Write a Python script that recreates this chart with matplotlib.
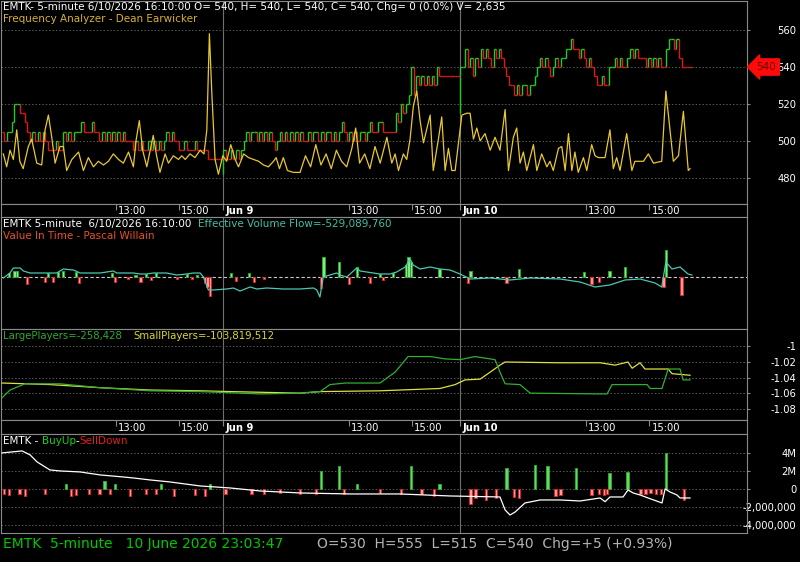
import numpy as np
import matplotlib
matplotlib.use("Agg")
import matplotlib.pyplot as plt
from matplotlib.transforms import blended_transform_factory

W, H = 800, 562

# ---- time axis (5-minute bar index, Jun 8 session starts at 0) ----
first_bar = 6
day_lines = [92, 184]
time_ticks = [50.5, 75, 92, 141, 165.3, 184, 233, 257.5]
time_labels = ["13:00", "15:00", "Jun 9", "13:00", "15:00", "Jun 10", "13:00", "15:00"]

# ---- price closes per bar ----
close_jun8 = [505, 500, 505, 505, 510, 520, 520, 515, 515, 510, 505, 500,
              505, 500, 505, 500, 505, 500, 495, 495, 495, 500, 495, 495,
              505, 500, 505, 500, 505, 505, 505, 510, 505, 505, 505, 510, 505, 505,
              500, 505, 500, 505, 500, 505, 500, 505, 500, 505, 500, 500,
              500, 495, 500, 495, 500, 495, 495, 500, 495, 500, 495, 500, 495, 500,
              505, 500, 505, 500, 500, 495, 495, 500, 495, 495, 495, 500, 495, 495,
              495, 495, 490, 490, 490, 490, 490, 490]
open_jun9 = 482
close_jun9 = [495, 490, 490, 495, 490, 495, 490, 495,
              500, 505, 500, 505, 505, 500, 505, 500, 505, 500, 505, 500, 495, 500,
              505, 500, 505, 500, 505, 500, 505,
              500, 505, 500, 500, 505, 500, 505, 505, 500, 505, 500, 505, 505, 500,
              505, 500, 505, 510, 505, 500, 505, 500, 505, 500, 505, 505, 500, 505,
              510, 505, 505, 510,
              510, 505, 505, 505, 505, 505, 515, 510, 520, 515, 520, 525, 540,
              525, 535, 530, 535, 530, 535, 530, 535, 530, 540,
              535, 535, 535, 535, 535, 535, 535, 535]
open_jun10 = 515
close_jun10 = [540, 540, 550, 540, 545, 535, 545, 540, 550,
               545, 550, 545, 540, 550, 545, 550, 545, 540, 535, 530, 530,
               525, 530, 525, 530, 530, 525, 530, 530, 535, 540, 545, 540, 545, 540,
               535, 540, 545, 540, 545, 545, 550, 550, 555, 550, 550, 545, 550, 545, 540,
               545, 540, 535, 530, 530, 535, 530, 530, 540,
               540, 545, 540, 545, 540, 540, 545, 550, 545, 550, 545, 545, 545,
               540, 545, 540, 545, 540, 545, 540, 540, 550, 555,
               555, 550, 555, 545, 540, 540, 540, 540]

# ---- Frequency Analyzer (bar index, value) ----
fa_t = [6.7, 8.0, 9.3, 10.6, 11.9, 13.1, 14.4, 16.4, 17.7, 19.7, 21.6, 22.9, 24.2, 25.5,
        26.8, 28.7, 30.0, 31.3, 33.3, 35.9, 37.8, 39.7, 41.7, 43.6, 45.6, 47.5, 49.4, 51.4,
        53.3, 55.3, 57.2, 58.2, 59.5, 60.8, 62.4, 64.9, 66.2, 67.5, 69.5, 70.8, 72.7, 74.7,
        76.0, 77.3, 79.2, 81.1, 83.1, 84.6, 85.7, 86.7, 87.7, 88.9, 90.2, 91.9,
        93.4, 95.0, 96.7, 98.0, 100.0, 101.9, 103.9, 105.8, 107.7, 109.6, 111.6, 112.6,
        113.9, 115.4, 117.0, 119.3, 121.9, 124, 126, 128, 130, 132, 134, 136, 138, 140,
        142, 143.5, 145, 147, 149, 151,
        153.0, 155.6, 157.5, 158.8, 160.1, 162.0, 163.3, 164.6, 165.9, 167.2, 168.5, 169.8,
        172.4, 173.6, 175.6, 176.9, 178.2, 179.5, 180.8, 182.1,
        184.0, 184.7, 186.6, 187.9, 189.2, 190.5, 191.8, 193.7, 195.7, 197.6, 199.5, 201.5,
        202.8, 204.7, 206.0, 207.3, 208.6, 209.9, 212.5, 213.8, 215.7, 217.7, 218.9, 220.2,
        222.2, 223.5, 224.8, 226.1, 227.4, 228.6, 229.9, 231.9, 233.2, 235.1, 236.4, 237.7,
        240.3, 242.2, 243.5, 244.8, 246.1, 248.7, 250.7, 251.9, 255.2, 257.1, 259.1, 262.3,
        263.9, 265.5, 266.8, 268.8, 270.7, 272.6, 273.3]
fa_v = [493, 486, 495, 490, 506, 489, 485, 497, 501, 488, 487, 506, 514, 502,
        488, 497, 497, 484, 490, 494, 484, 491, 486, 489, 487, 489, 493, 490,
        488, 494, 486, 500, 511, 495, 486, 503, 492, 483, 493, 488, 492, 490,
        492, 490, 493, 491, 495, 493, 506, 558, 524, 490, 482, 492,
        489, 498, 490, 486, 493, 491, 490, 489, 487, 486, 489, 491,
        485, 491, 484, 483, 483, 492, 486, 498, 487, 493, 485, 495, 489, 486,
        496, 507, 488, 493, 485, 497,
        488, 502, 488, 493, 484, 493, 490, 501, 519, 527, 511, 499,
        514, 484, 501, 513, 484, 496, 484, 484,
        506, 514, 515, 515, 501, 507, 500, 504, 495, 502, 495, 517,
        484, 502, 507, 488, 494, 484, 498, 484, 493, 486, 489, 484,
        496, 497, 484, 504, 484, 494, 483, 491, 484, 498, 492, 491,
        491, 506, 485, 491, 484, 504, 484, 489, 489, 493, 488, 489,
        527, 506, 489, 492, 516, 484, 485]

# ---- Value In Time panel ----
evf_t = [6.7, 9.3, 10.6, 13.2, 14.5, 17.1, 22.2, 24.8, 27.4, 28.7, 30.0, 33.9, 36.5, 39.1,
         44.3, 46.8, 49.4, 50.7, 57.2, 59.8, 62.4, 64.9, 70.1, 74.0, 77.9, 80.5, 83.1, 84.4,
         86.3, 88.2, 93.4, 96.0, 98.6, 102.5, 105.1, 108.9, 115.4, 121.9, 127.1, 128.4,
         129.6, 130.9, 133.5, 136.1, 137.4, 140.0, 143.9, 145.2, 147.8, 152.9, 156.8, 159.4,
         162.7, 164.6, 165.8, 168.5, 172.4, 176.2, 180.1, 184.0, 187.9, 195.7, 203.4, 211.2,
         222.8, 230.6, 236.4, 242.2, 248.0, 253.9, 259.7, 262.3, 263.9, 266.3, 269.4, 272.5, 274.0]
evf_v = [-1, 4, 9, 9, 6, 4, 4, 4, 4, 6, 8, 7, 4, 4,
         4, 5, 6, 4, 4, 3, 3, 4, 4, 2, 3, 4, 4, 0,
         -13, -13, -12, -11, -14, -10, -12, -11, -12, -12, -11, -13,
         -20, 0, 2, 4, 2, 0, 9, 6, 5, 3, 3, 5,
         10, 18, 12, 8, 10, 8, 7, 3, -2, -1, -3, -1,
         -2, -5, -10, -8, -3, -2, -6, -10, 15, 8, 10, 3, 2]
vit_t = [9, 11, 12, 24, 28, 30, 35, 49, 58, 62, 66, 78, 82, 95, 102, 131, 137, 144, 153, 158,
         163, 164, 165, 176, 188, 207, 232, 242, 248, 264,
         16, 23, 26, 36, 50, 55, 60, 64, 74, 80, 85, 86, 87, 97, 104, 108, 130, 141, 149, 154,
         187, 202, 235, 238, 263, 270]
vit_v = [4, 6, 6, 4, 5, 6, 5, 4, 2, 3, 4, 3, 2, 4, 4, 20, 15, 10, 3, 4,
         12, 20, 15, 8, 6, 8, 5, 6, 10, 27,
         -7, -5, -5, -6, -5, -2, -5, -3, -2, -2, -6, -10, -19, -4, -5, -2, -11, -7, -6, -3,
         -6, -6, -7, -5, -10, -18]

# ---- Large / Small players ----
small_t = [6.2, 24.8, 44.3, 63.7, 83.1, 94.7, 121.9, 129.7, 152.9, 176.2, 182.1, 185.9,
           191.8, 195.7, 199.5, 201.5, 222.8, 238.4, 244.2, 249.2, 250.8, 253.9, 255.8,
           264.8, 266.3, 273.3]
small_v = [-1.047, -1.049, -1.053, -1.056, -1.057, -1.058, -1.060, -1.058, -1.057, -1.054,
           -1.049, -1.043, -1.042, -1.033, -1.024, -1.020, -1.021, -1.021, -1.024, -1.020,
           -1.028, -1.021, -1.029, -1.029, -1.035, -1.037]
large_t = [6.2, 9.3, 15.1, 28.7, 44.3, 63.7, 83.1, 106.4, 121.9, 129.7, 133.5, 139.4, 152.9,
           158.8, 163.8, 172.4, 178.2, 184.0, 189.8, 197.6, 199.5, 201.5, 207.3, 211.2,
           238.4, 241.1, 243.0, 256.6, 257.8, 262.4, 264.8, 269.4, 270.6, 273.3]
large_v = [-1.066, -1.056, -1.048, -1.048, -1.053, -1.057, -1.058, -1.061, -1.060, -1.058,
           -1.049, -1.047, -1.047, -1.033, -1.013, -1.013, -1.016, -1.017, -1.013, -1.017,
           -1.033, -1.048, -1.049, -1.060, -1.061, -1.061, -1.049, -1.049, -1.054, -1.054,
           -1.029, -1.029, -1.043, -1.043]

# ---- BuyUp / SellDown (millions) ----
bus_t = [6.2, 10.1, 14.0, 17.1, 19.8, 24.8, 28.7, 36.5, 44.3, 53.2, 57.1, 63.7, 71.4, 83.1,
         94.7, 106.4, 121.9, 141.3, 160.7, 180.1, 199.5, 201.5, 203.4, 205.4, 209.2, 215.1,
         222.8, 230.6, 238.4, 240.3, 242.2, 247.3, 249.2, 251.2, 253.9, 257.0, 262.4, 263.6,
         265.5, 268.2, 269.4, 273.3]
bus_v = [3.96, 4.07, 4.18, 3.74, 2.97, 2.09, 1.98, 1.87, 1.54, 1.32, 1.21, 0.99, 0.77, 0.33,
         0.11, -0.22, -0.44, -0.55, -0.55, -0.77, -0.88, -2.31, -2.86, -2.53, -1.54, -1.21,
         -1.21, -1.32, -0.99, -1.4, -0.88, -0.88, -0.11, -0.44, -0.66, -0.99, -1.54, 0.0,
         -0.33, -0.66, -0.99, -0.99]
bar_t = [31, 46, 50, 68, 87, 130, 137, 144, 165, 176, 202, 213, 218, 229, 242, 249, 264,
         7, 9, 13, 15, 23, 33, 35, 40, 44, 48, 56, 62, 66, 73, 81, 85, 93, 103, 108, 114,
         122, 128, 139, 153, 161, 169, 174, 188, 190, 194, 198, 205, 207, 221, 223, 235,
         238, 240, 241, 254, 256, 258, 260, 262, 271]
bar_v = [0.6, 0.9, 0.5, 0.6, 0.5, 2.0, 2.5, 0.5, 2.5, 0.6, 2.3, 2.6, 2.5, 2.3, 1.8, 1.9, 4.0,
         -0.5, -0.7, -0.6, -0.8, -0.5, -0.8, -0.7, -0.6, -0.5, -0.6, -0.8, -0.5, -0.6, -0.8,
         -0.7, -0.8, -0.5, -0.5, -0.6, -0.4, -0.6, -0.5, -0.5, -0.4, -0.5, -0.6, -0.8, -1.7,
         -1.0, -1.2, -1.0, -0.9, -1.0, -0.8, -0.7, -0.7, -0.6, -0.7, -0.6, -0.5, -0.6, -0.4,
         -0.6, -0.5, -1.2]

GREEN = "#22cc22"
RED = "#e01818"
GRID = "#5a5a5a"
FRAME = "#8a8a8a"

plt.rcParams['font.family'] = ['DejaVu Sans']
fig = plt.figure(figsize=(W / 100, H / 100), dpi=100, facecolor="black")
XMIN, XMAX = 5.8, 295.4


def box(top, bottom, left=1, right=747):
    return [left / W, 1 - bottom / H, (right - left) / W, (bottom - top) / H]


def style(ax, yticks=None, ylabels=None):
    ax.set_facecolor("black")
    ax.set_xlim(XMIN, XMAX)
    for s in ax.spines.values():
        s.set_color(FRAME)
        s.set_linewidth(0.8)
    ax.set_xticks([])
    for d in day_lines:
        ax.axvline(d, color="#707070", lw=0.8, zorder=1)
    if yticks is None:
        ax.set_yticks([])
        return
    ax.yaxis.tick_right()
    ax.set_yticks(yticks)
    ax.set_yticklabels(ylabels)
    ax.tick_params(axis="y", colors="white", labelsize=7.2, length=2, pad=33.5, color=FRAME)
    for lbl in ax.get_yticklabels():
        lbl.set_horizontalalignment("right")
    for y in yticks:
        ax.axhline(y, color=GRID, lw=0.7, ls=(0, (1.5, 2)), zorder=1)


def time_strip(ax):
    ax.set_facecolor("black")
    ax.set_xlim(XMIN, XMAX)
    ax.set_ylim(0, 1)
    for s in ax.spines.values():
        s.set_color(FRAME)
        s.set_linewidth(0.8)
    ax.set_yticks([])
    ax.xaxis.tick_top()
    ax.set_xticks(time_ticks)
    ax.tick_params(axis="x", direction="in", length=4, color=FRAME, labeltop=False)
    tr = blended_transform_factory(ax.transData, ax.transAxes)
    for x, lab in zip(time_ticks, time_labels):
        ax.text(x + 0.8, 0.45, lab, transform=tr, color="white", fontsize=7.2,
                ha="left", va="center", weight="bold" if lab.startswith("Jun") else "normal")


def seg_text(x_px, y_px, parts, size=7.5):
    r = fig.canvas.get_renderer()
    x = x_px
    for s, c, gap in parts:
        t = fig.text(x / W, 1 - y_px / H, s, color=c, fontsize=size, ha="left", va="center")
        x += t.get_window_extent(renderer=r).width + gap


# ---- panel 1: price + frequency analyzer ----
ax1 = fig.add_axes(box(1, 204))
ax1.set_ylim(465.9, 575.7)
style(ax1, [480, 500, 520, 540, 560], ["480", "500", "520", "540", "560"])
closes = np.array(close_jun8 + close_jun9 + close_jun10, dtype=float)
idx = np.arange(first_bar, first_bar + len(closes))
opens = np.r_[closes[0], closes[:-1]]
opens[len(close_jun8)] = open_jun9
opens[len(close_jun8) + len(close_jun9)] = open_jun10
cols = []
last = RED
for o, c in zip(opens, closes):
    if c > o:
        last = GREEN
    elif c < o:
        last = RED
    cols.append(last)
ax1.vlines(idx, opens, closes, colors=cols, lw=1.0, zorder=3)
ax1.hlines(closes, idx, idx + 1, colors=cols, lw=1.0, zorder=3)
ax1.plot(fa_t, fa_v, color="#e8c830", lw=0.9, zorder=4)
ax1.text(1.026, 540, "540", transform=blended_transform_factory(ax1.transAxes, ax1.transData),
         color="#6a0000", fontsize=7.5, ha="center", va="center", zorder=10, clip_on=False,
         bbox=dict(boxstyle="larrow,pad=0.3", fc="#ff0a0a", ec="#ff0a0a"))

ts1 = fig.add_axes(box(204, 217))
time_strip(ts1)

# ---- panel 2: value in time ----
ax2 = fig.add_axes(box(217, 329))
ax2.set_ylim(-52, 60)
style(ax2)
ax2.axhline(0, color="#c8c8c8", lw=0.8, ls=(0, (3, 2)), zorder=2)
vit_v_arr = np.array(vit_v, dtype=float)
up = vit_v_arr > 0
ax2.bar(np.array(vit_t)[up], vit_v_arr[up], width=0.9, color="#8fe08f", edgecolor="#22b022",
        lw=0.7, zorder=3)
ax2.bar(np.array(vit_t)[~up], vit_v_arr[~up], width=0.9, color="#f4a0a0", edgecolor="#e02020",
        lw=0.7, zorder=3)
ax2.plot(evf_t, evf_v, color="#48c8b0", lw=0.9, zorder=4)

# ---- panel 3: large / small players ----
ax3 = fig.add_axes(box(329, 420))
ax3.set_ylim(-1.0945, -0.9776)
style(ax3, [-1.0, -1.02, -1.04, -1.06, -1.08], ["-1", "-1.02", "-1.04", "-1.06", "-1.08"])
ax3.plot(small_t, small_v, color="#e0e040", lw=0.9, zorder=4)
ax3.plot(large_t, large_v, color="#30b030", lw=0.9, zorder=4)

ts2 = fig.add_axes(box(420, 434))
time_strip(ts2)

# ---- panel 4: BuyUp / SellDown ----
ax4 = fig.add_axes(box(434, 533))
ax4.set_ylim(-4.84, 6.04)
style(ax4, [4, 2, 0, -2, -4], ["4M", "2M", "0", "-2,000,000", "-4,000,000"])
bar_v_arr = np.array(bar_v)
up4 = bar_v_arr > 0
ax4.bar(np.array(bar_t)[up4], bar_v_arr[up4], width=0.9, color="#70d070", edgecolor="#22b022",
        lw=0.7, zorder=3)
ax4.bar(np.array(bar_t)[~up4], bar_v_arr[~up4], width=0.9, color="#f4a0a0", edgecolor="#e02020",
        lw=0.7, zorder=3)
ax4.plot(bus_t, bus_v, color="white", lw=0.9, zorder=4)

# ---- header texts ----
seg_text(3, 7, [("EMTK- 5-minute 6/10/2026 16:10:00 O= 540, H= 540, L= 540, C= 540, "
                 "Chg= 0 (0.0%) V= 2,635", "white", 0)])
seg_text(3, 19, [("Frequency Analyzer - Dean Earwicker", "#d8b030", 0)])
seg_text(3, 224, [("EMTK 5-minute  6/10/2026 16:10:00", "white", 7),
                  ("Effective Volume Flow=-529,089,760", "#40c0a8", 0)])
seg_text(3, 236, [("Value In Time - Pascal Willain", "#e85028", 0)])
seg_text(3, 336, [("LargePlayers=-258,428", "#30a830", 12),
                  ("SmallPlayers=-103,819,512", "#d8d830", 0)], size=7.3)
seg_text(3, 441, [("EMTK - ", "white", 0), ("BuyUp", "#22cc22", 0), ("-", "white", 0),
                  ("SellDown", "#e02020", 0)])

fig.text(3 / W, 1 - 544 / H, "EMTK  5-minute   10 June 2026 23:03:47", color="#00c800",
         fontsize=10, ha="left", va="center", family=["Liberation Sans Narrow", "DejaVu Sans"])
fig.text(317 / W, 1 - 544 / H, "O=530  H=555  L=515  C=540  Chg=+5 (+0.93%)", color="#b4b4b4",
         fontsize=10, ha="left", va="center", family=["Liberation Sans Narrow", "DejaVu Sans"])

fig.savefig("out.png", dpi=100, facecolor="black")
